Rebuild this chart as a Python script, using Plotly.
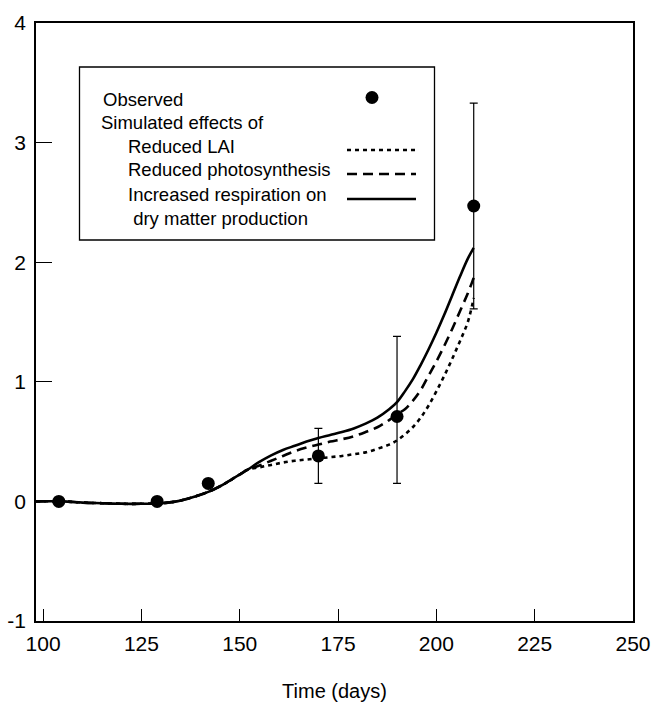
import plotly.graph_objects as go

# ---------------- data ----------------
obs_day = [104, 129, 142, 170, 190, 209.5]
obs_val = [0.0, 0.0, 0.15, 0.38, 0.71, 2.47]
err_up = [None, None, None, 0.23, 0.67, 0.86]
err_down = [None, None, None, 0.23, 0.56, 0.86]

common_day = [98.2, 105, 110, 115, 120, 125, 130, 134, 137, 140, 142, 144, 146, 148, 150, 152]
common_val = [0.0, 0.0, -0.01, -0.015, -0.02, -0.02, -0.015, 0.0, 0.025, 0.055, 0.08, 0.11, 0.145, 0.185, 0.225, 0.265]

tail_day = [155, 158, 161, 164, 167, 170, 173, 176, 179, 182, 185, 188, 190,
            192, 194, 196, 198, 200, 202, 204, 206, 208, 209.5]
resp_val = [0.33, 0.385, 0.43, 0.465, 0.50, 0.53, 0.555, 0.58, 0.61, 0.65, 0.70, 0.77, 0.83,
            0.92, 1.02, 1.14, 1.27, 1.41, 1.56, 1.72, 1.88, 2.03, 2.12]
photo_val = [0.30, 0.34, 0.38, 0.42, 0.45, 0.475, 0.50, 0.52, 0.545, 0.58, 0.62, 0.68, 0.73,
             0.77, 0.84, 0.93, 1.05, 1.17, 1.30, 1.44, 1.59, 1.74, 1.87]
lai_val = [0.285, 0.305, 0.325, 0.34, 0.35, 0.36, 0.37, 0.38, 0.395, 0.41, 0.44, 0.475, 0.51,
           0.56, 0.62, 0.70, 0.80, 0.92, 1.05, 1.19, 1.34, 1.50, 1.70]

x_ticks = [100, 125, 150, 175, 200, 225, 250]
y_ticks = [-1, 0, 1, 2, 3, 4]
y_tick_text = ["-1", "0", "1", "2", "3", "4"]

legend_lines = ["Observed", "Simulated effects of", "Reduced LAI", "Reduced photosynthesis",
                "Increased respiration on", " dry matter production"]

# ---------------- figure ----------------
FONT = "Liberation Sans, Arial, Helvetica, sans-serif"
W, H = 655, 702
L, R, T, B = 36, 22, 23, 81
PW, PH = W - L - R, H - T - B

DOT = "4px,4px"
DASH = "10px,6px"

fig = go.Figure()

fig.add_trace(go.Scatter(x=common_day + tail_day, y=common_val + lai_val, mode="lines",
                         line=dict(color="black", width=2.6, dash=DOT, shape="spline"),
                         showlegend=False))
fig.add_trace(go.Scatter(x=common_day + tail_day, y=common_val + photo_val, mode="lines",
                         line=dict(color="black", width=2.6, dash=DASH, shape="spline"),
                         showlegend=False))
fig.add_trace(go.Scatter(x=common_day + tail_day, y=common_val + resp_val, mode="lines",
                         line=dict(color="black", width=2.6, shape="spline"),
                         showlegend=False))
fig.add_trace(go.Scatter(x=obs_day, y=obs_val, mode="markers",
                         marker=dict(color="black", size=13),
                         error_y=dict(type="data", symmetric=False, array=err_up,
                                      arrayminus=err_down, color="black", thickness=1.2, width=4),
                         showlegend=False))


def px_x(p):
    return (p - L) / PW


def px_y(p):
    return (H - B - p) / PH


shapes = [dict(type="rect", xref="paper", yref="paper",
               x0=px_x(79.5), x1=px_x(434.5), y0=px_y(240), y1=px_y(67),
               line=dict(color="black", width=1.3), fillcolor="white", layer="below")]
# legend samples
shapes.append(dict(type="circle", xref="paper", yref="paper",
                   x0=px_x(365.5), x1=px_x(378.5), y0=px_y(104), y1=px_y(91),
                   fillcolor="black", line=dict(color="black", width=0)))
for yy, dash in [(150, DOT), (174, DASH), (199, "solid")]:
    shapes.append(dict(type="line", xref="paper", yref="paper",
                       x0=px_x(347), x1=px_x(416), y0=px_y(yy), y1=px_y(yy),
                       line=dict(color="black", width=2.6, dash=dash)))

annotations = []
text_pos = [(101, 99), (99, 122.5), (126, 146), (126, 170), (126, 194), (126, 218)]
for txt, (xx, yy) in zip(legend_lines, text_pos):
    annotations.append(dict(text=txt, xref="paper", yref="paper", x=px_x(xx), y=px_y(yy),
                            xanchor="left", yanchor="middle", showarrow=False,
                            font=dict(family=FONT, size=18.5, color="black")))

fig.update_layout(
    width=W, height=H,
    margin=dict(l=L, r=R, t=T, b=B),
    paper_bgcolor="white", plot_bgcolor="white",
    font=dict(family=FONT, color="black"),
    shapes=shapes, annotations=annotations,
    xaxis=dict(range=[98.2, 250], tickvals=x_ticks, ticks="inside", ticklen=12,
               tickwidth=1.3, tickcolor="black", showline=True, linecolor="black",
               linewidth=1.5, mirror=True, showgrid=False, zeroline=False, automargin=False,
               tickfont=dict(family=FONT, size=21), ticklabelstandoff=3,
               title=dict(text="Time (days)", font=dict(family=FONT, size=20), standoff=30)),
    yaxis=dict(range=[-1, 4], tickvals=y_ticks, ticktext=y_tick_text, ticks="inside",
               ticklen=16, tickwidth=1.3, tickcolor="black", showline=True,
               linecolor="black", linewidth=1.5, mirror=True, showgrid=False, automargin=False,
               zeroline=False, tickfont=dict(family=FONT, size=21), ticklabelstandoff=4),
)

fig.write_html("out.html", config={"displayModeBar": False},
               post_script="document.body.style.margin='0';document.body.style.overflow='hidden';")
